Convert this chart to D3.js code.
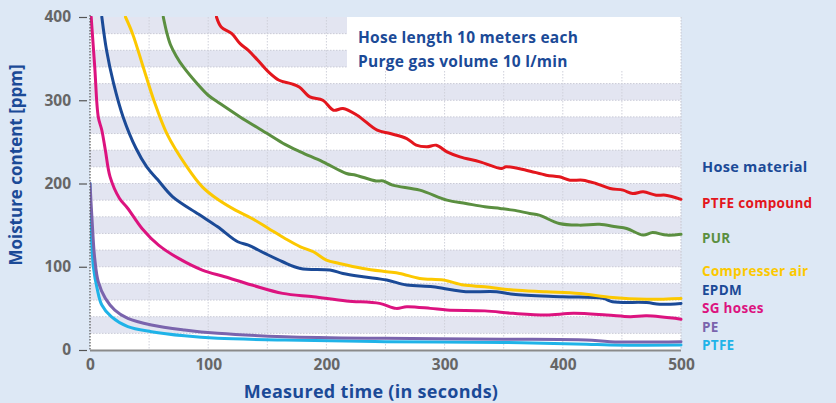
<!DOCTYPE html>
<html>
<head>
<meta charset="utf-8">
<script src="https://cdn.jsdelivr.net/npm/d3@7"></script>
<style>
  html, body { margin: 0; padding: 0; background: #dde8f5; }
  svg { display: block; }
  text { font-family: "Open Sans", "DejaVu Sans", sans-serif; font-weight: 700; }
</style>
</head>
<body>
<svg id="chart" width="836" height="403"></svg>
<script>
// ---------------- data ----------------
const xTicks = [0, 100, 200, 300, 400, 500];
const yTicks = [0, 100, 200, 300, 400];
const seriesNames = ["PTFE compound", "PUR", "Compresser air", "EPDM", "SG hoses", "PE", "PTFE"];
const legendTitle = "Hose material";
const noteLines = ["Hose length 10 meters each", "Purge gas volume 10 l/min"];
const xTitle = "Measured time (in seconds)";
const yTitle = "Moisture content [ppm]";

// [time s, moisture ppm]
const ptfeCompound = [[107,400],[111,388],[120,380],[127,368],[134,360],[142,348],[151,334],[160,324],[170,320],[177,316],[186,304],[197,300],[206,288],[214,290],[226,282],[243,264],[254,260],[268,254],[276,246],[285,244],[293,246],[302,238],[313,232],[330,226],[348,218],[352,220],[369,216],[386,210],[397,208],[406,204],[417,204],[428,200],[440,194],[451,192],[459,188],[468,190],[479,186],[487,186],[500,181]];
const pur = [[62,400],[65,381],[68,367],[73,353],[79,340],[90,321],[100,306],[110,296],[127,280],[150,260],[165,247],[178,238],[197,226],[217,212],[225,210],[242,203],[248,203],[256,198],[279,192],[302,180],[318,176],[334,172],[347,170],[358,168],[372,164],[380,162],[397,152],[414,150],[431,151],[445,148],[454,146],[468,138],[476,141],[488,138],[500,139]];
const compressedAir = [[30,400],[36,380],[45,340],[54,300],[65,260],[82,220],[95,196],[108,181],[123,168],[137,158],[151,146],[165,134],[178,124],[189,118],[200,108],[211,104],[231,98],[251,94],[262,92],[279,86],[299,84],[316,78],[334,76],[358,72],[386,70],[414,68],[442,63],[471,61],[500,62]];
const epdm = [[10,400],[14,360],[20,320],[28,280],[39,242],[48,220],[57,205],[70,184],[92,163],[108,148],[125,130],[134,126],[148,116],[163,106],[178,98],[203,96],[214,92],[231,88],[251,84],[268,78],[290,76],[307,72],[318,70],[344,70],[358,67],[400,64],[434,62],[442,58],[471,57],[482,55],[500,56]];
const sgHoses = [[1,400],[4,340],[7,280],[10,264],[13,240],[17,208],[25,182],[32,170],[44,146],[58,126],[75,110],[95,96],[114,88],[137,78],[163,68],[189,64],[217,59],[245,56],[259,50],[268,52],[288,50],[302,48],[334,47],[358,44],[386,42],[409,44],[437,42],[457,40],[471,41],[500,37]];
const pe = [[0,200],[2,150],[4,110],[7,82],[13,62],[21,48],[32,38],[52,30],[80,24],[108,20],[165,16],[250,14],[350,13],[420,12],[440,10],[500,10]];
const ptfe = [[0,200],[1.4,130],[3,98],[6,74],[10,54],[18,40],[32,28],[52,22],[80,17],[108,14],[165,12],[250,10],[350,9],[420,7],[440,6],[500,6]];

const seriesData = [ptfeCompound, pur, compressedAir, epdm, sgHoses, pe, ptfe];

// ---------------- style / layout ----------------
const colors = ["#e3161d", "#5b8f40", "#fcc800", "#1b4a97", "#dc137f", "#7a64ad", "#1fb3e8"];
const legendY = [203, 238, 271, 289.5, 308, 326.5, 345];
const W = 836, H = 403;
const plot = { left: 90, right: 681, top: 17, bottom: 350 };
const textBlue = "#1b4a97";

const svg = d3.select("#chart");
svg.append("rect").attr("width", W).attr("height", H).attr("fill", "#dde8f5");

const x = d3.scaleLinear().domain([0, 500]).range([plot.left, plot.right]);
const y = d3.scaleLinear().domain([0, 400]).range([plot.bottom, plot.top]);

// plot background and stripes
svg.append("rect").attr("x", plot.left).attr("y", plot.top)
  .attr("width", plot.right - plot.left).attr("height", plot.bottom - plot.top)
  .attr("fill", "#ffffff");
const bandStarts = d3.range(20, 400, 40);
svg.append("g").selectAll("rect").data(bandStarts).join("rect")
  .attr("x", plot.left).attr("width", plot.right - plot.left)
  .attr("y", d => y(d + 20)).attr("height", d => y(d) - y(d + 20))
  .attr("fill", "#e3e5f1");

// horizontal dotted lines
svg.append("g").selectAll("line").data(d3.range(20, 400, 20)).join("line")
  .attr("x1", plot.left).attr("x2", plot.right)
  .attr("y1", d => y(d)).attr("y2", d => y(d))
  .attr("stroke", "#c9cad6").attr("stroke-width", 1).attr("stroke-dasharray", "1.5,1.5");
// vertical dotted lines
svg.append("g").selectAll("line").data(d3.range(50, 501, 50)).join("line")
  .attr("x1", d => x(d)).attr("x2", d => x(d))
  .attr("y1", plot.top).attr("y2", plot.bottom)
  .attr("stroke", "#cfd0da").attr("stroke-width", 1).attr("stroke-dasharray", "1.5,1.5");

// annotation box
svg.append("rect").attr("x", 347).attr("y", plot.top)
  .attr("width", plot.right - 347).attr("height", 54).attr("fill", "#ffffff");
svg.append("line").attr("x1", plot.right).attr("x2", plot.right)
  .attr("y1", plot.top).attr("y2", plot.bottom)
  .attr("stroke", "#cfd0da").attr("stroke-dasharray", "1.5,1.5");
svg.append("g").selectAll("text").data(noteLines).join("text")
  .attr("x", 358).attr("y", (d, i) => 43 + i * 24)
  .attr("fill", textBlue).attr("font-size", 15.5).attr("letter-spacing", 0.25).text(d => d);

// lines
svg.append("clipPath").attr("id", "clip").append("rect")
  .attr("x", plot.left).attr("y", plot.top - 1)
  .attr("width", plot.right - plot.left + 2).attr("height", plot.bottom - plot.top + 1);
const line = d3.line().x(d => x(d[0])).y(d => y(d[1])).curve(d3.curveCatmullRom.alpha(0.5));
const order = [6, 5, 4, 3, 2, 1, 0];
svg.append("g").attr("clip-path", "url(#clip)").selectAll("path")
  .data(order).join("path")
  .attr("d", i => line(seriesData[i]))
  .attr("fill", "none").attr("stroke", i => colors[i])
  .attr("stroke-width", 3).attr("stroke-linejoin", "round").attr("stroke-linecap", "round");

// axes
svg.append("line").attr("x1", plot.left).attr("x2", plot.left)
  .attr("y1", plot.top - 2).attr("y2", plot.bottom)
  .attr("stroke", "#555").attr("stroke-width", 1.2).attr("stroke-dasharray", "1.5,1.5");
svg.append("line").attr("x1", plot.left).attr("x2", plot.right)
  .attr("y1", plot.bottom + 0.5).attr("y2", plot.bottom + 0.5)
  .attr("stroke", "#8a8a8a").attr("stroke-width", 2);

const yAxis = d3.axisLeft(y).tickValues(yTicks).tickSize(8).tickPadding(8);
const gy = svg.append("g").attr("transform", `translate(${plot.left - 3},0)`).call(yAxis);
gy.select(".domain").remove();
gy.selectAll(".tick line").attr("stroke", "#555").attr("stroke-width", 1.2);
gy.selectAll(".tick text").attr("fill", "#666").attr("font-size", 15.5)
  .attr("font-family", "'Open Sans', sans-serif").attr("font-weight", 700);

const xAxis = d3.axisBottom(x).tickValues(xTicks).tickSize(0).tickPadding(9);
const gx = svg.append("g").attr("transform", `translate(0,${plot.bottom})`).call(xAxis);
gx.select(".domain").remove();
gx.selectAll(".tick text").attr("fill", "#666").attr("font-size", 15.5)
  .attr("font-family", "'Open Sans', sans-serif").attr("font-weight", 700);

// axis titles
svg.append("text").attr("x", 371).attr("y", 398).attr("text-anchor", "middle")
  .attr("fill", textBlue).attr("font-size", 18).attr("letter-spacing", 0.3).text(xTitle);
svg.append("text").attr("transform", "translate(22,165) rotate(-90)")
  .attr("text-anchor", "middle").attr("fill", textBlue).attr("font-size", 17).text(yTitle);

// legend
svg.append("text").attr("x", 702).attr("y", 172).attr("fill", textBlue)
  .attr("font-size", 14.5).attr("letter-spacing", 0.3).text(legendTitle);
svg.append("g").selectAll("text").data(seriesNames).join("text")
  .attr("x", 702).attr("y", (d, i) => legendY[i] + 5)
  .attr("fill", (d, i) => colors[i]).attr("font-size", 13.5).attr("letter-spacing", 0.3).text(d => d);
</script>
</body>
</html>
